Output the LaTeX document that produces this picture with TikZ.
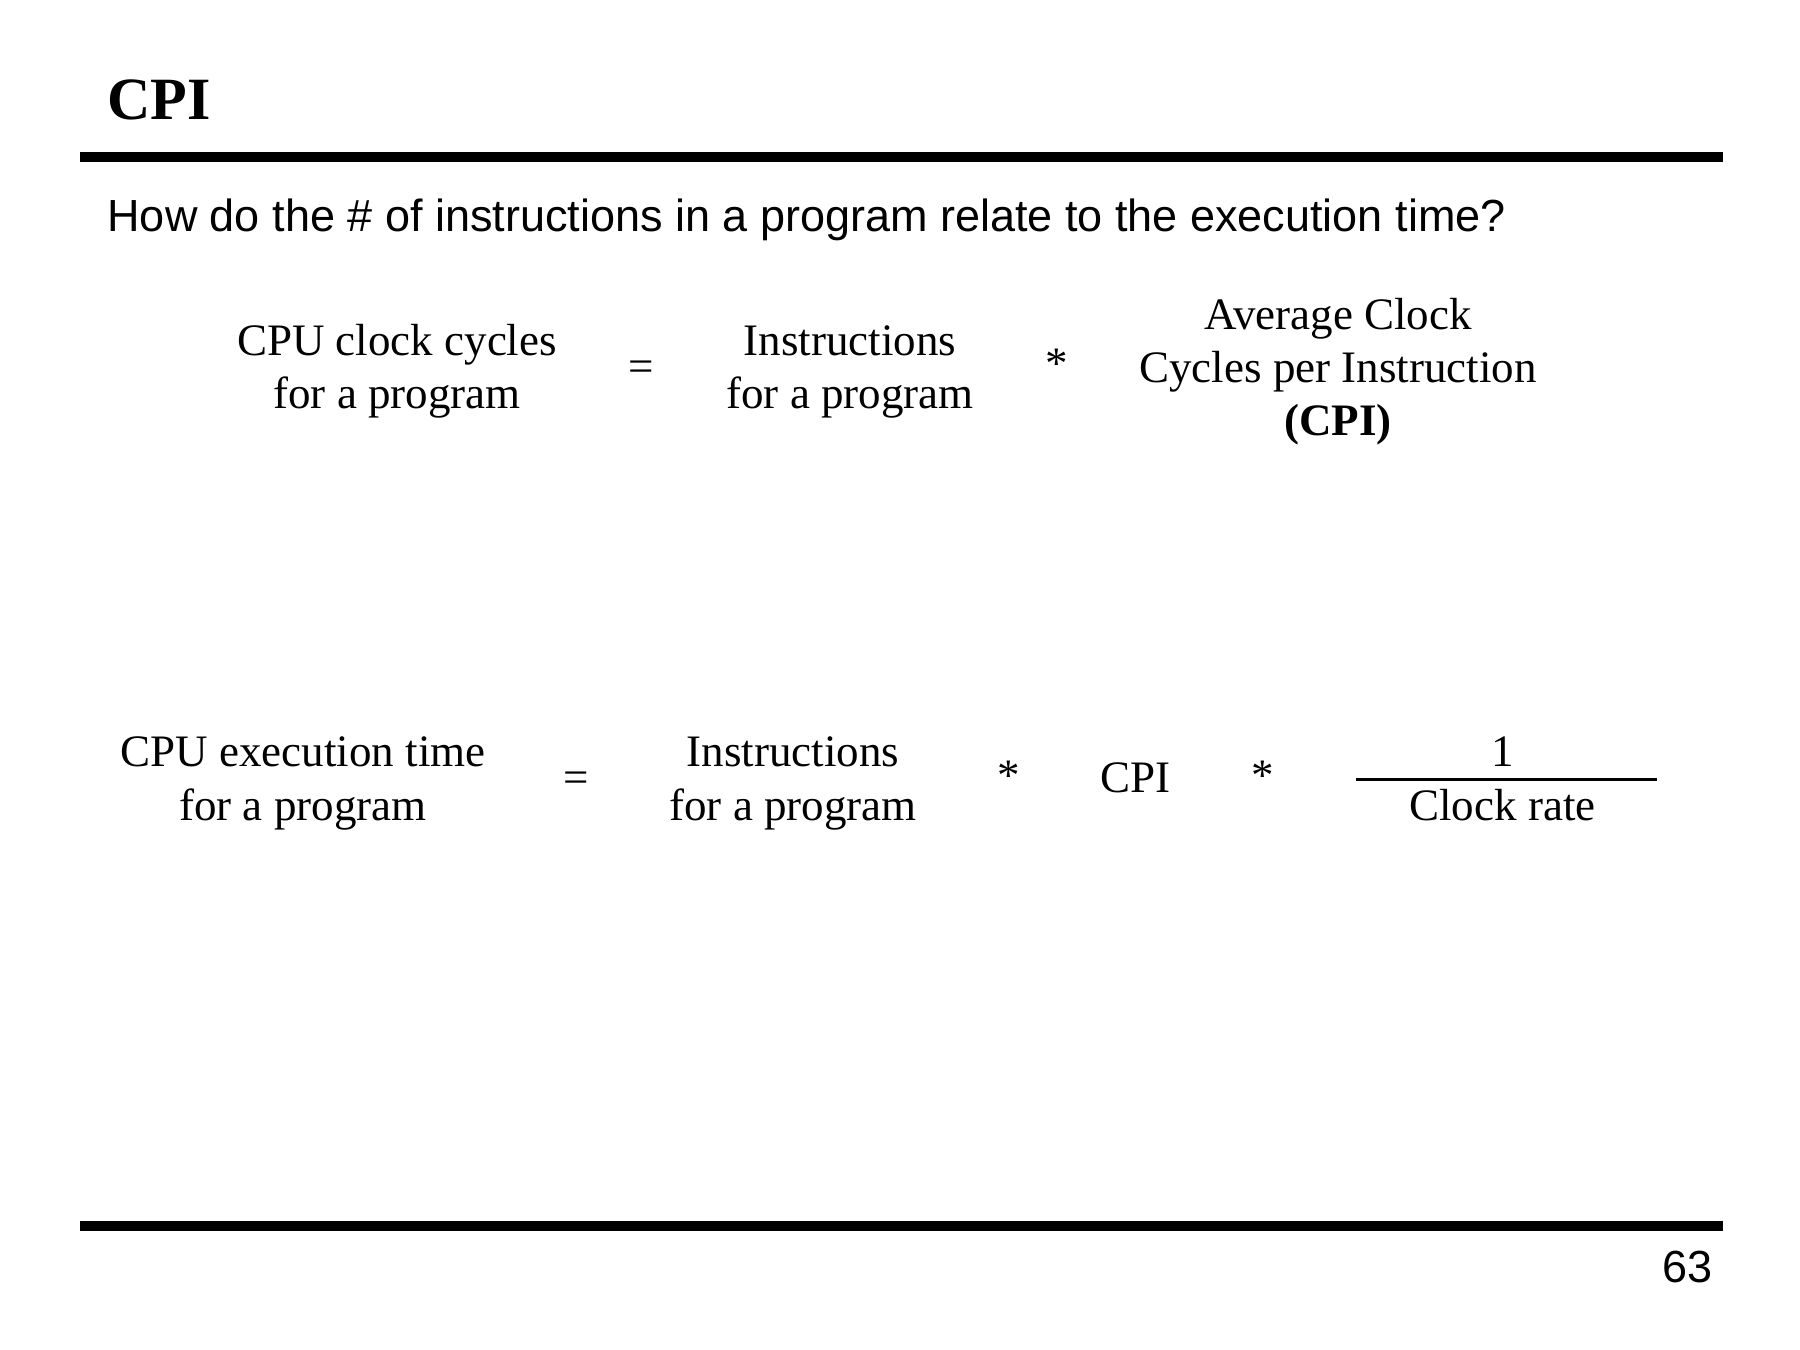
\documentclass[tikz,border=0pt]{standalone}
\usepackage{fontspec}
\setmainfont{Liberation Serif}
\newfontfamily\arialfont{Liberation Sans}
\begin{document}
\begin{tikzpicture}[x=0.4pt,y=-0.4pt,
  txt/.style={inner sep=0pt,outer sep=0pt,anchor=base,font=\fontsize{18}{21.2}\selectfont},
  sym/.style={inner sep=0pt,outer sep=0pt,anchor=base,font=\fontsize{18}{21.2}\selectfont},
  rulebar/.style={line width=4pt},
  fracbar/.style={line width=1pt}]
\useasboundingbox[fill=white] (0,0) rectangle (1800,1350);
% title
\node[inner sep=0pt,anchor=base west,font=\fontsize{24}{28}\selectfont\bfseries] (title) at (107,119.5) {CPI};
\coordinate (tl) at (80.4,157.3);
\coordinate (tr) at (1723,157.3);
\draw[rulebar] (tl) -- (tr);
\node[inner sep=0pt,anchor=base west,font=\arialfont\fontsize{18}{21.6}\selectfont] (question) at (107,232)
  {How do the \# of instructions in a program relate to the execution time?};
% equation 1
\node[txt] (cc) at (397,356) {\begin{tabular}[t]{@{}c@{}}CPU clock cycles\\for a program\end{tabular}};
\node[sym] (eq1) at (641,382) {=};
\node[txt] (ins1) at (850,356) {\begin{tabular}[t]{@{}c@{}}Instructions\\for a program\end{tabular}};
\node[sym] (st1) at (1056.5,379) {*};
\node[txt] (avg) at (1338,329.5) {\begin{tabular}[t]{@{}c@{}}Average Clock\\Cycles per Instruction\\\textbf{(CPI)}\end{tabular}};
% equation 2
\node[txt] (et) at (303,767) {\begin{tabular}[t]{@{}c@{}}CPU execution time\\for a program\end{tabular}};
\node[sym] (eq2) at (576,793) {=};
\node[txt] (ins2) at (793,767) {\begin{tabular}[t]{@{}c@{}}Instructions\\for a program\end{tabular}};
\node[sym] (st2) at (1008.5,790.5) {*};
\node[txt] (cpi) at (1135,793) {CPI};
\node[sym] (st3) at (1263,790.5) {*};
\node[txt] (frac) at (1502.5,767) {\begin{tabular}[t]{@{}c@{}}1\\Clock rate\end{tabular}};
\coordinate (fl) at (1355.8,779.5);
\coordinate (fr) at (1656.6,779.5);
\draw[fracbar] (fl) -- (fr);
% footer
\coordinate (bl) at (80.4,1226);
\coordinate (br) at (1723,1226);
\draw[rulebar] (bl) -- (br);
\node[inner sep=0pt,anchor=base east,font=\arialfont\fontsize{18}{21.6}\selectfont] (page) at (1713,1282) {63};
\end{tikzpicture}
\end{document}
